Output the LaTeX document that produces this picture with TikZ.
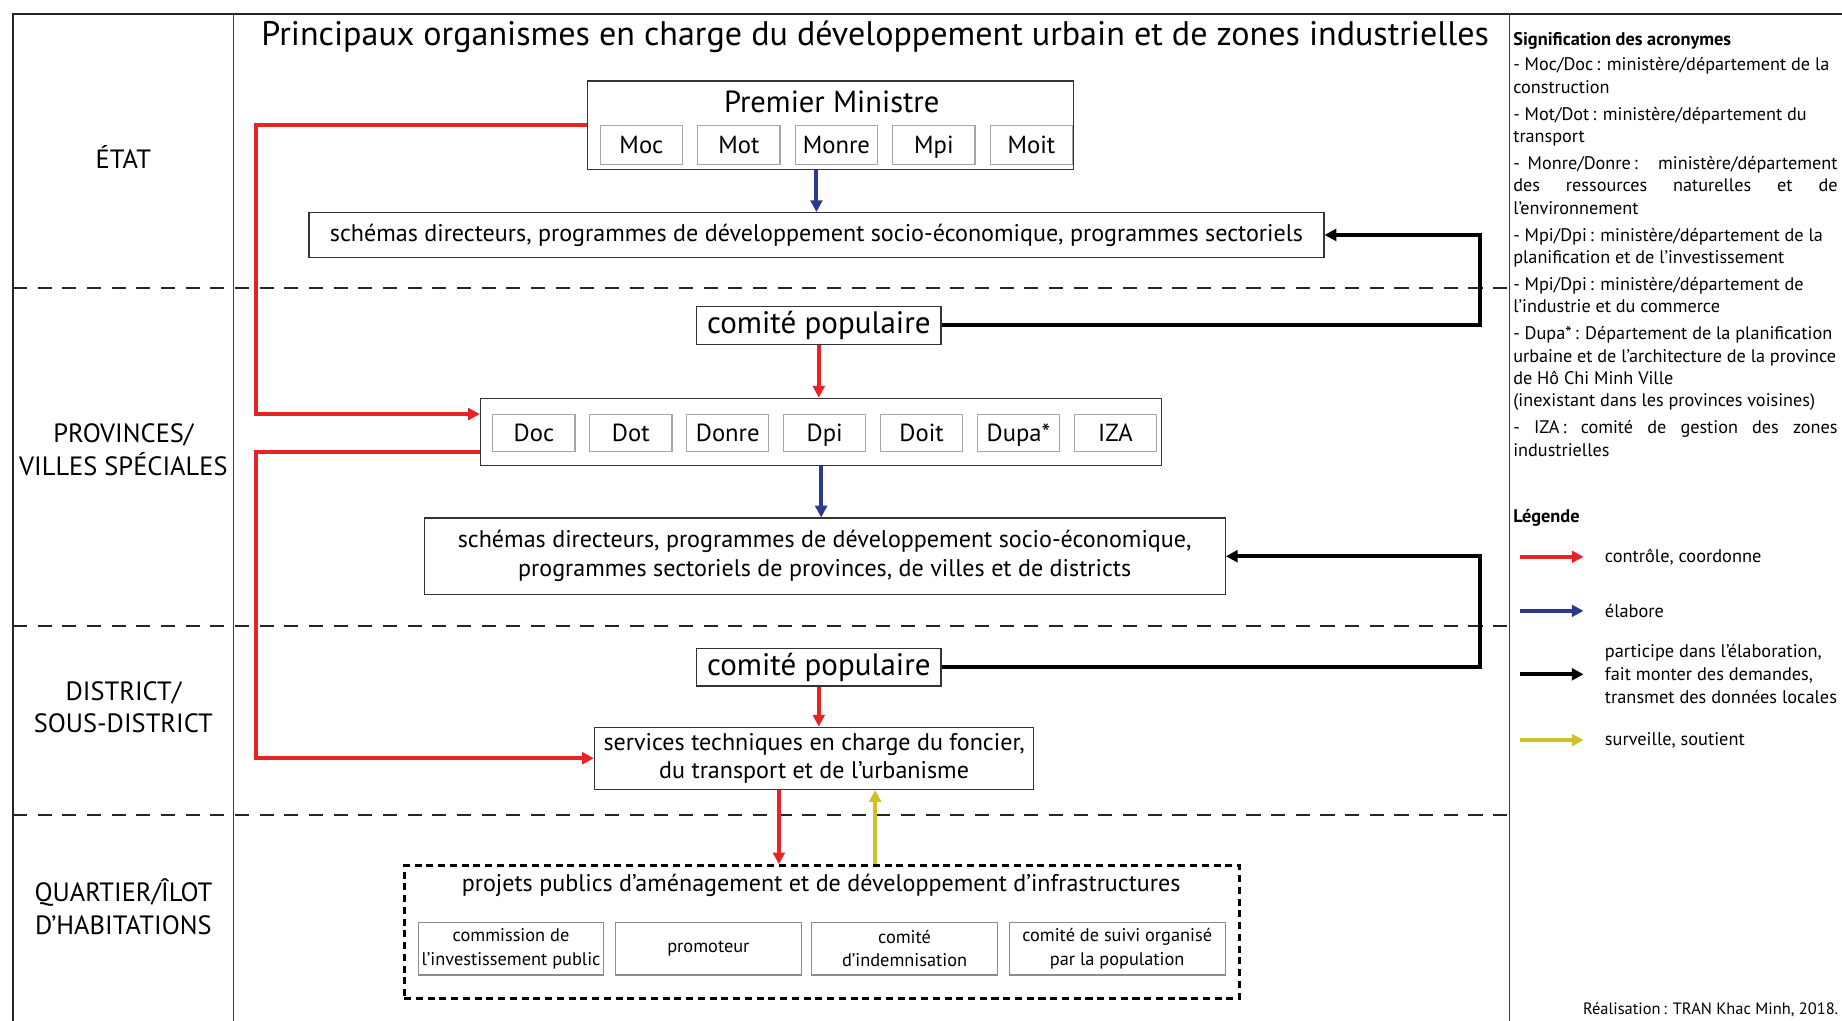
\documentclass[tikz,border=0pt]{standalone}
\usepackage{fontspec}
\setmainfont{PT Sans}
\usetikzlibrary{calc}
\usetikzlibrary{positioning}
\usetikzlibrary{arrows.meta}
\usepackage{xcolor}
\definecolor{red}{RGB}{232,35,38}
\definecolor{blue}{RGB}{43,57,144}
\definecolor{yellow}{RGB}{210,192,40}

\begin{document}
\begin{tikzpicture}[x=1pt, y=-1pt,
		box/.style = {rectangle, draw=black!80, line width=1pt, inner sep=0pt, align=center, font=\fontsize{20.5}{24.5}\selectfont},
		sub/.style = {rectangle, draw=black!35, line width=1pt, inner sep=0pt, minimum width=70, minimum height=33, text height=18, text depth=3, font=\fontsize{21}{24}\selectfont},
		psub/.style = {rectangle, draw=black!45, line width=1pt, inner sep=0pt, minimum height=45, align=center, font=\fontsize{15.6}{20}\selectfont},
		cp/.style = {box, minimum width=208, minimum height=32, font=\fontsize{26.4}{28}\selectfont},
		lvl/.style = {align=center, font=\fontsize{22.5}{28}\selectfont},
		sep/.style = {black!85, line width=1.4pt, dash pattern=on 12pt off 9pt},
		tip/.style = {-{Triangle[length=10pt, width=10pt]}},
		ctrl/.style = {tip, red, line width=3.4pt},
		elab/.style = {tip, blue, line width=3.4pt},
		part/.style = {tip, black, line width=3.4pt},
		surv/.style = {tip, yellow, line width=3.4pt},
		legtxt/.style = {anchor=west, inner sep=0pt, align=left, font=\fontsize{15.6}{19.6}\selectfont}
		]
		\useasboundingbox (0,0) rectangle (1568,869);
		
		% === === Frame === ===
		\draw[line width=1.4pt, black!85] (11,869) -- (11,12) -- (1568,12);
		\draw[line width=1.2pt, black!75] (199,12) -- (199,869);
		\draw[line width=1.2pt, black!75] (1285,12) -- (1285,869);
		\foreach \y in {245, 533, 694}
			\draw[sep] (11,\y) -- (1285,\y);
		
		\node[font=\fontsize{29}{32}\selectfont] (title) at (745,31) {Principaux organismes en charge du développement urbain et de zones industrielles};
		
		% === === Levels === ===
		\node[lvl]	(etat)	at	(105,134)	{ÉTAT};
		\node[lvl]	(prv)	at	(105,383)	{PROVINCES/\\VILLES SPÉCIALES};
		\node[lvl]	(dst)	at	(105,602)	{DISTRICT/\\SOUS-DISTRICT};
		\node[lvl]	(qrt)	at	(105,772)	{QUARTIER/ÎLOT\\D’HABITATIONS};
		
		% === === Nodes === ===
		\node[box, minimum width=414, minimum height=75]	(pm)	at	(707,106.5)	{};
		\node[font=\fontsize{26}{28}\selectfont]	(pmtxt)	at	(708,87)	{Premier Ministre};
		\node[sub]	(moc)	at	(546,123.5)	{Moc};
		\node[sub, right=12 of moc]		(mot)	{Mot};
		\node[sub, right=12 of mot]		(monre)	{Monre};
		\node[sub, right=12 of monre]	(mpi)	{Mpi};
		\node[sub, right=12 of mpi]		(moit)	{Moit};
		
		\node[box, minimum width=864, minimum height=38]	(sch1)	at	(695,200)	{schémas directeurs, programmes de développement socio-économique, programmes sectoriels};
		\node[cp]	(cp1)	at	(697,277)	{comité populaire};
		
		\node[box, minimum width=580, minimum height=57]	(prov)	at	(699,367.5)	{};
		\node[sub, minimum height=31]	(doc)	at	(454.5,368.5)	{Doc};
		\node[sub, minimum height=31, right=11.5 of doc]	(dot)	{Dot};
		\node[sub, minimum height=31, right=11.5 of dot]	(donre)	{Donre};
		\node[sub, minimum height=31, right=11.5 of donre]	(dpi)	{Dpi};
		\node[sub, minimum height=31, right=11.5 of dpi]	(doit)	{Doit};
		\node[sub, minimum height=31, right=11.5 of doit]	(dupa)	{Dupa*};
		\node[sub, minimum height=31, right=11.5 of dupa]	(iza)	{IZA};
		
		\node[box, minimum width=682, minimum height=65]	(sch2)	at	(702,473.5)	{schémas directeurs, programmes de développement socio-économique,\\programmes sectoriels de provinces, de villes et de districts};
		\node[cp]	(cp2)	at	(697,568)	{comité populaire};
		\node[box, minimum width=374, minimum height=53]	(serv)	at	(693,645.5)	{services techniques en charge du foncier,\\du transport et de l’urbanisme};
		
		\node[rectangle, draw, line width=2.6pt, dash pattern=on 6pt off 4pt, minimum width=711, minimum height=113]	(proj)	at	(699.5,793.5)	{};
		\node[font=\fontsize{20.5}{24}\selectfont]	(projtxt)	at	(699,754)	{projets publics d’aménagement et de développement d’infrastructures};
		\node[psub, minimum width=158]	(cip)	at	(435,807.5)	{commission de\\l’investissement public};
		\node[psub, minimum width=158]	(prom)	at	(603,807.5)	{promoteur};
		\node[psub, minimum width=158]	(cind)	at	(770,807.5)	{comité\\d’indemnisation};
		\node[psub, minimum width=184]	(csuivi)	at	(951,807.5)	{comité de suivi organisé\\par la population};
		
		\coordinate (rx) at (218,0);
		\coordinate (bx) at (1260,0);
		
		% === === Lines === ===
		\draw[elab]	(sch1.north |- pm.south)	--	(sch1.north);
		\draw[ctrl]	(pm.west)	-|	(rx |- doc.north)	--	(doc.north -| prov.west);
		\draw[part]	(cp1.east)	-|	(bx |- sch1.east)	--	(sch1.east);
		\draw[ctrl]	(cp1.south)	--	(cp1.south |- prov.north);
		\draw[elab]	(prov.south)	--	(prov.south |- sch2.north);
		\draw[ctrl]	(doc.south -| prov.west)	-|	(rx |- serv.west)	--	(serv.west);
		\draw[part]	(cp2.east)	-|	(bx |- sch2.east)	--	(sch2.east);
		\draw[ctrl]	(cp2.south)	--	(cp2.south |- serv.north);
		\draw[ctrl]	([xshift=-30]serv.south)	--	([xshift=-30]serv.south |- proj.north);
		\draw[surv]	([xshift=52]serv.south |- proj.north)	--	([xshift=52]serv.south);
		
		% === === Acronyms === ===
		\node[legtxt]	(sig)	at	(1288,35)	{\bfseries Signification des acronymes};
		\node[anchor=north west, inner sep=0pt, text width=276, align=justify, font=\fontsize{15.5}{19}\selectfont\setlength{\parskip}{4pt}]	(acro)	at	(1288,49)	{%
			- Moc/Doc\,: ministère/département de la\\ construction\par
			- Mot/Dot\,: ministère/département  du\\ transport\par
			- Monre/Donre\,:~ ministère/département\linebreak des ressources naturelles et de\linebreak l’environnement\par
			- Mpi/Dpi\,: ministère/département  de la\\ planification et de l’investissement\par
			- Mpi/Dpi\,: ministère/département  de\\ l’industrie et du commerce\par
			- Dupa*\,: Département de la planification\\ urbaine et de l’architecture de la province\\ de Hô Chi Minh Ville\\ (inexistant dans les provinces voisines)\par
			- IZA\,: comité de gestion des zones\linebreak industrielles};
		
		% === === Legend === ===
		\node[legtxt]	(leg)	at	(1288,441)	{\bfseries Légende};
		\node[legtxt]	(l1)	at	(1366,474)	{contrôle, coordonne};
		\node[legtxt]	(l2)	at	(1366,520)	{élabore};
		\node[legtxt]	(l3)	at	(1366,574)	{participe dans l’élaboration,\\fait monter des demandes,\\transmet des données locales};
		\node[legtxt]	(l4)	at	(1366,630)	{surveille, soutient};
		\draw[ctrl]	([xshift=-72]l1.west)	--	([xshift=-18]l1.west);
		\draw[elab]	([xshift=-72]l2.west)	--	([xshift=-18]l2.west);
		\draw[part]	([xshift=-72]l3.west)	--	([xshift=-18]l3.west);
		\draw[surv]	([xshift=-72]l4.west)	--	([xshift=-18]l4.west);
		
		\node[anchor=east, inner sep=0pt, font=\fontsize{14}{16}\selectfont]	(credit)	at	(1565,860)	{Réalisation\,: TRAN Khac Minh, 2018.};
		
	\end{tikzpicture}
\end{document}
